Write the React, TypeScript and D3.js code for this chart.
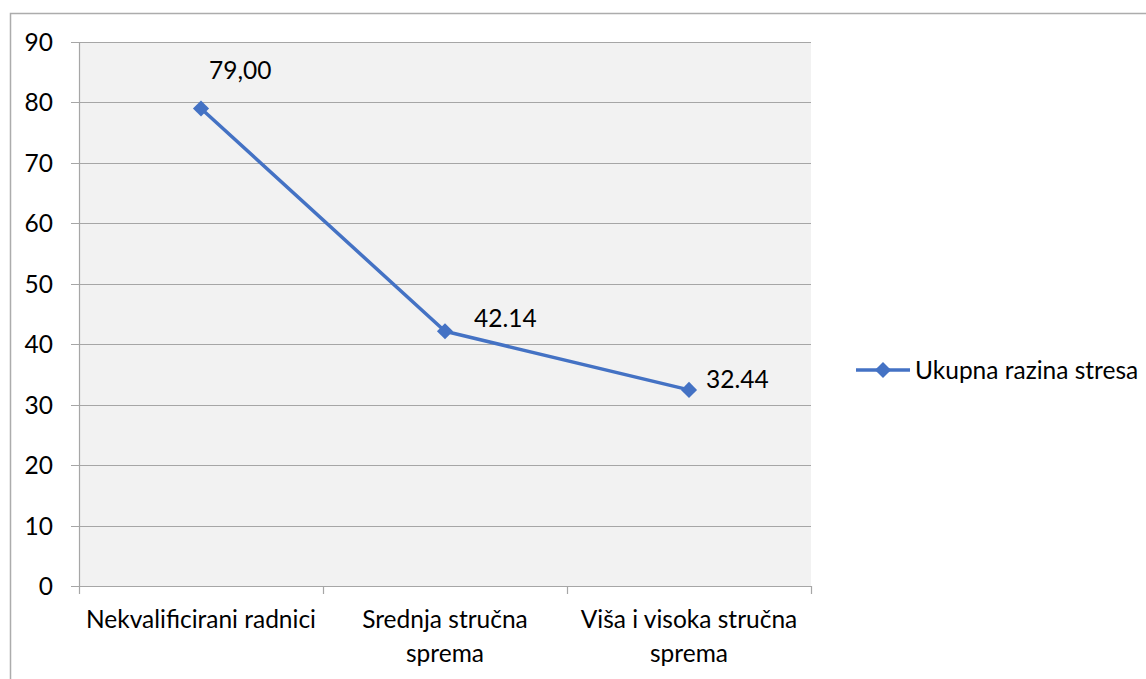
import React, { useEffect, useRef } from 'react';
import * as d3 from 'd3';

// chart data
const categories = ['Nekvalificirani radnici', 'Srednja stručna sprema', 'Viša i visoka stručna sprema'];
const categoryLines = [['Nekvalificirani radnici'], ['Srednja stručna', 'sprema'], ['Viša i visoka stručna', 'sprema']];
const values = [79.0, 42.14, 32.44];
const valueLabels = ['79,00', '42.14', '32.44'];
const yTicks = [0, 10, 20, 30, 40, 50, 60, 70, 80, 90];
const seriesName = 'Ukupna razina stresa';

const WIDTH = 1146;
const HEIGHT = 679;
const BLUE = '#4472c4';
const FONT = 'Lato, "Open Sans", sans-serif';
const FS = '24.5px';

const App: React.FC = () => {
    const svgRef = useRef<SVGSVGElement>(null);

    useEffect(() => {
        if (!svgRef.current) return;
        const svg = d3.select(svgRef.current);
        svg.selectAll('*').remove();

        const plot = { left: 79, right: 811, top: 42, bottom: 586 };

        const x = d3.scaleBand<string>()
            .domain(categories)
            .range([plot.left, plot.right]);

        const y = d3.scaleLinear()
            .domain([0, 90])
            .range([plot.bottom, plot.top]);

        // outer chart border (runs off the right/bottom edge)
        svg.append('rect')
            .attr('x', 10.5)
            .attr('y', 13.5)
            .attr('width', 1200)
            .attr('height', 700)
            .attr('fill', '#fff')
            .attr('stroke', '#acacac')
            .attr('stroke-width', 1.5);

        // plot background
        svg.append('rect')
            .attr('x', plot.left)
            .attr('y', plot.top)
            .attr('width', plot.right - plot.left)
            .attr('height', plot.bottom - plot.top)
            .attr('fill', '#f2f2f2');

        // gridlines + y ticks
        const grid = svg.append('g');
        yTicks.forEach(t => {
            const yy = Math.round(y(t)) + 0.5;
            grid.append('line')
                .attr('x1', plot.left - 8)
                .attr('x2', plot.right)
                .attr('y1', yy)
                .attr('y2', yy)
                .attr('stroke', '#a6a6a6')
                .attr('stroke-width', 1.2);
            grid.append('text')
                .attr('x', 53)
                .attr('y', yy)
                .attr('dy', '0.36em')
                .attr('text-anchor', 'end')
                .style('font-family', FONT)
                .style('font-size', FS)
                .style('fill', '#000')
                .text(t);
        });

        // y axis line
        svg.append('line')
            .attr('x1', plot.left + 0.5)
            .attr('x2', plot.left + 0.5)
            .attr('y1', plot.top)
            .attr('y2', plot.bottom)
            .attr('stroke', '#a6a6a6')
            .attr('stroke-width', 1.2);

        // x ticks at category boundaries
        const bounds = [plot.left, ...categories.map(c => (x(c) as number) + x.bandwidth())];
        bounds.forEach(b => {
            svg.append('line')
                .attr('x1', Math.round(b) + 0.5)
                .attr('x2', Math.round(b) + 0.5)
                .attr('y1', plot.bottom)
                .attr('y2', plot.bottom + 8)
                .attr('stroke', '#a6a6a6')
                .attr('stroke-width', 1.2);
        });

        // x labels
        categories.forEach((c, i) => {
            const t = svg.append('text')
                .attr('text-anchor', 'middle')
                .style('font-family', FONT)
                .style('font-size', FS)
                .style('fill', '#000');
            categoryLines[i].forEach((ln, j) => {
                t.append('tspan')
                    .attr('x', (x(c) as number) + x.bandwidth() / 2)
                    .attr('y', 628 + j * 34)
                    .text(ln);
            });
        });

        // series line
        const cx = (i: number) => (x(categories[i]) as number) + x.bandwidth() / 2;
        const line = d3.line<number>()
            .x((d, i) => cx(i))
            .y(d => y(d));

        svg.append('path')
            .datum(values)
            .attr('fill', 'none')
            .attr('stroke', BLUE)
            .attr('stroke-width', 3.5)
            .attr('stroke-linejoin', 'round')
            .attr('d', line);

        const diamond = d3.symbol().type(d3.symbolSquare).size(130);
        values.forEach((v, i) => {
            svg.append('path')
                .attr('d', diamond()!)
                .attr('transform', `translate(${cx(i)},${y(v)}) rotate(45)`)
                .attr('fill', BLUE);
        });

        // data labels
        const labelOffsets = [[8, -38], [29, -13], [17, -11]];
        values.forEach((v, i) => {
            svg.append('text')
                .attr('x', cx(i) + labelOffsets[i][0])
                .attr('y', y(v) + labelOffsets[i][1])
                .attr('dy', '0.36em')
                .style('font-family', FONT)
                .style('font-size', FS)
                .style('fill', '#000')
                .text(valueLabels[i]);
        });

        // legend
        const lg = svg.append('g').attr('transform', 'translate(856, 370)');
        lg.append('line')
            .attr('x1', 0)
            .attr('x2', 54)
            .attr('stroke', BLUE)
            .attr('stroke-width', 3.5);
        lg.append('path')
            .attr('d', diamond()!)
            .attr('transform', 'translate(27,0) rotate(45)')
            .attr('fill', BLUE);
        lg.append('text')
            .attr('x', 59)
            .attr('dy', '0.36em')
            .style('font-family', FONT)
            .style('font-size', FS)
            .style('fill', '#000')
            .text(seriesName);
    }, []);

    return (
        <div style={{ position: 'fixed', left: 0, top: 0 }}>
            <svg ref={svgRef} width={WIDTH} height={HEIGHT} style={{ display: 'block', background: '#fff' }} />
        </div>
    );
};

export default App;
